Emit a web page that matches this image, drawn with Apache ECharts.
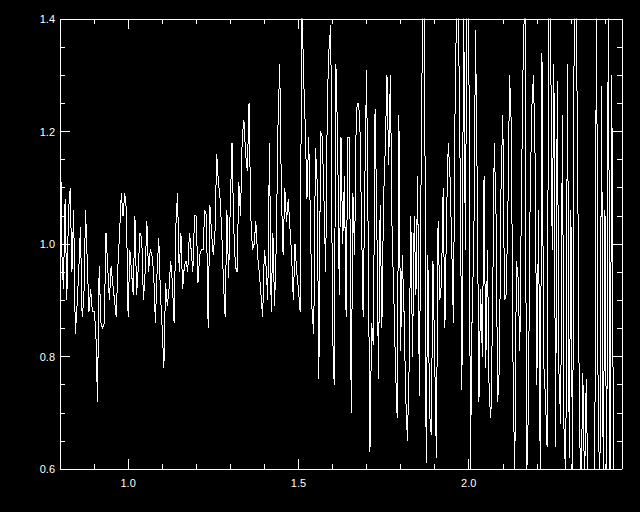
<!DOCTYPE html>
<html>
<head>
<meta charset="utf-8">
<script src="https://cdn.jsdelivr.net/npm/echarts@6/dist/echarts.min.js"></script>
<style>
html,body{margin:0;padding:0;background:#000;}
#chart{width:640px;height:512px;}
#chart svg path{shape-rendering:crispEdges;}
</style>
</head>
<body>
<div id="chart"></div>
<script>
// wavelength grid of the spectrum (start, step)
const waveStart = 0.8;
const waveStep = 0.005;

// flux values, in order along the wavelength grid
const flux_a = [1.29,0.99,0.92,1.08,0.90,1.06,1.10,0.95,1.06,0.84,
                0.89,0.95,1.03,0.87,0.90,1.06,0.97,0.88,0.92,0.88,
                0.88,0.85,0.72,0.96,0.86,0.85,0.86,1.02,0.96,0.90,
                0.96,0.93,0.90,0.87,0.96,1.02,1.09,1.05,1.09,1.06];
const flux_b = [0.87,0.99,0.95,0.91,1.05,0.91,0.96,1.02,1.01,0.90,
                0.95,1.04,0.95,0.99,0.98,0.95,0.86,0.95,1.01,0.91,
                0.85,0.78,0.93,0.89,0.92,0.97,0.93,0.86,1.03,1.09,
                0.95,1.02,0.92,0.96,0.97,0.95,1.02,0.99,0.95,1.05,
                1.05];
const flux_c = [0.93,0.98,0.99,0.99,1.06,1.05,0.85,1.07,1.02,0.98,
                1.02,1.16,1.11,1.08,1.02,0.93,0.87,1.06,0.94,1.07,
                1.18,1.03,0.96,0.95,1.11,1.05,1.19,1.22,1.16,1.13,
                1.25,1.05,0.99,1.00,1.04,0.98,0.95,0.91,0.87,0.99,
                0.96,0.90];
const flux_d = [1.18,0.88,1.02,0.89,1.00,1.21,1.32,1.09,0.98,1.10,
                1.04,1.08,1.03,0.98,0.90,1.00,0.95,0.92,0.88,1.45,
                1.30,1.21,1.08,1.19,1.05,0.88,0.84,1.17,1.11,0.76,
                1.20,1.19,1.08,0.95,1.26,1.35,1.39,0.85,0.75,1.32,
                1.19];
const flux_e = [0.91,1.19,1.00,1.12,0.87,1.19,1.19,0.70,1.09,0.98,
                1.24,1.25,1.23,1.05,0.87,1.11,1.31,1.00,0.63,0.86,
                0.82,1.24,1.05,0.76,1.07,0.85,1.08,1.17,1.30,1.14,
                1.30,1.02,0.91,0.78,0.69,1.23,0.81,0.98,0.88,0.73,
                0.65];
const flux_f = [0.78,1.05,0.80,1.05,0.91,1.12,0.73,1.11,1.45,1.42,
                0.61,0.98,0.70,0.66,0.97,0.80,0.62,1.04,0.90,0.93,
                1.10,0.85,1.05,1.18,1.12,1.00,0.86,1.25,1.45,1.40,
                1.12,0.74,1.45,0.99,1.45,1.42,0.60,0.88,1.00,1.38,
                1.10];
const flux_g = [0.72,0.92,0.80,1.12,0.78,0.99,0.73,0.69,0.88,1.18,
                1.06,0.72,0.78,1.11,1.23,0.90,0.91,1.06,1.30,1.21,
                0.79,0.58,0.97,0.94,0.81,1.10,1.34,1.45,0.58,0.70,
                1.06,1.24,1.30,1.15,0.75,1.06,0.58,1.34,0.79,0.73,
                0.64];
const flux_h = [1.45,1.42,0.99,1.32,0.64,1.29,0.77,0.68,1.23,0.64,
                0.60,1.32,0.62,1.06,0.55,1.48,1.47,1.13,0.68,0.56,
                0.77,0.57,0.76,0.55,0.50,0.55,0.52,0.58,1.46,0.70,
                0.56,1.28,0.55,1.06,0.55,1.48,0.55,1.30,0.58];

const xTickLabels = ['1.0','1.5','2.0'];
const yTickLabels = ['0.6','0.8','1.0','1.2','1.4'];

const flux = [].concat(flux_a, flux_b, flux_c, flux_d, flux_e, flux_f, flux_g, flux_h);
const points = flux.map((v, i) => [Number((waveStart + i * waveStep).toFixed(4)), v]);

const white = '#ffffff';
const fontFam = '"Liberation Sans", Arial, sans-serif';

function xFmt(v) {
  const s = v.toFixed(1);
  return (xTickLabels.indexOf(s) >= 0 && Math.abs(v - Number(s)) < 1e-6) ? s : '';
}
function yFmt(v) {
  const s = v.toFixed(1);
  return (yTickLabels.indexOf(s) >= 0 && Math.abs(v - Number(s)) < 1e-6) ? s : '';
}

function xAxisDef(pos, showLabel) {
  return {
    type: 'value', position: pos, min: 0.8, max: 2.45,
    minInterval: 0.5, maxInterval: 0.5, splitNumber: 3,
    axisLine: { show: true, onZero: false, lineStyle: { color: white, width: 1 } },
    axisTick: { show: true, inside: true, length: 10, lineStyle: { color: white, width: 1 } },
    minorTick: { show: true, splitNumber: 5, length: 5, lineStyle: { color: white, width: 1 } },
    splitLine: { show: false },
    axisLabel: { show: showLabel, color: white, fontSize: 11, fontFamily: fontFam, margin: 8,
                 showMinLabel: false, showMaxLabel: false, formatter: xFmt }
  };
}
function yAxisDef(pos, showLabel) {
  return {
    type: 'value', position: pos, min: 0.6, max: 1.4, interval: 0.2,
    axisLine: { show: true, onZero: false, lineStyle: { color: white, width: 1 } },
    axisTick: { show: true, inside: true, length: 10, lineStyle: { color: white, width: 1 } },
    minorTick: { show: true, splitNumber: 4, length: 5, lineStyle: { color: white, width: 1 } },
    splitLine: { show: false },
    axisLabel: { show: showLabel, color: white, fontSize: 11, fontFamily: fontFam, margin: 5,
                 formatter: yFmt }
  };
}

const chart = echarts.init(document.getElementById('chart'), null, { renderer: 'svg' });
chart.setOption({
  backgroundColor: '#000000',
  animation: false,
  grid: { left: 60, right: 18, top: 19, bottom: 43, containLabel: false },
  xAxis: [xAxisDef('bottom', true), xAxisDef('top', false)],
  yAxis: [yAxisDef('left', true), yAxisDef('right', false)],
  series: [{
    type: 'line',
    xAxisIndex: 0, yAxisIndex: 0,
    data: points,
    showSymbol: false,
    symbol: 'none',
    clip: true,
    lineStyle: { color: white, width: 1 },
    emphasis: { disabled: true }
  }]
});
</script>
</body>
</html>
